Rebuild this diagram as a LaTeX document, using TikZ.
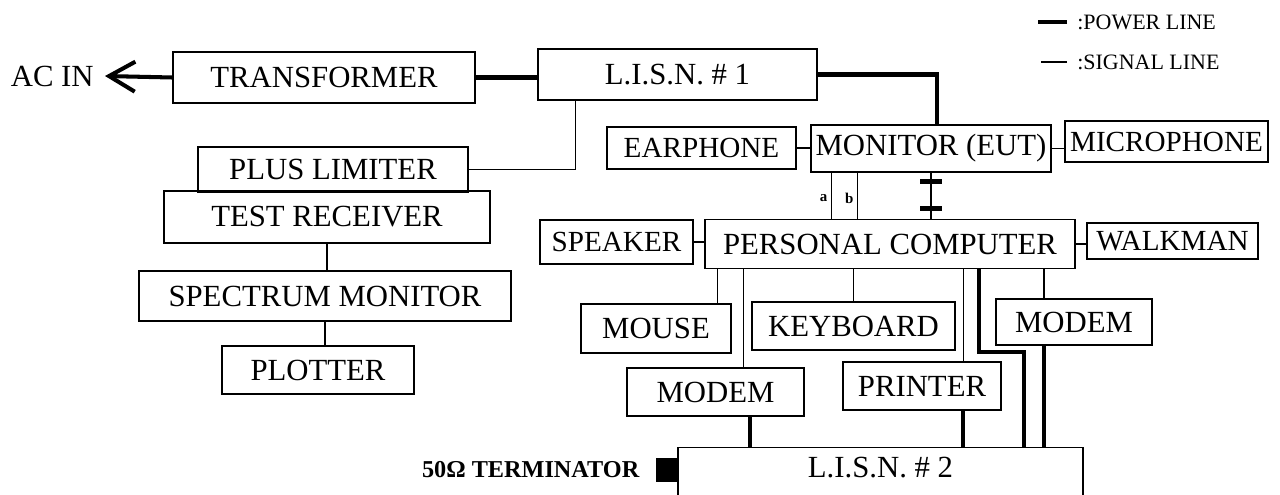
\documentclass[tikz,border=0pt]{standalone}
\usepackage{fontspec}
\setmainfont{Liberation Serif}
\usetikzlibrary{arrows.meta, positioning}

\begin{document}
\begin{tikzpicture}[
    x=0.02cm, y=-0.02cm,
    box/.style={rectangle, draw, line width=0.7pt, inner sep=0pt, text centered, font=\fontsize{17.5}{20}\selectfont},
    small box/.style={box, font=\fontsize{16.6}{19}\selectfont},
    power/.style={line width=2.3pt},
    signal/.style={line width=0.6pt},
    bar/.style={rectangle, fill, inner sep=0pt, minimum width=0.44cm, minimum height=0.1cm},
    legend/.style={anchor=west, inner sep=0pt, font=\fontsize{12.5}{14}\selectfont}
]
\useasboundingbox (0,0) rectangle (1280,494);

% measuring side
\node (acin) [anchor=east, inner sep=0pt, font=\fontsize{17.5}{20}\selectfont] at (94,76) {AC IN};
\coordinate (tip) at (105,76);
\node (tr) [box, minimum width=6.04cm, minimum height=1.02cm] at (324,77.5) {TRANSFORMER};
\node (lisn1) [box, minimum width=5.58cm, minimum height=1.02cm] at (677.5,74.5) {L.I.S.N. \# 1};
\node (pl) [box, minimum width=5.4cm, minimum height=0.9cm] at (333,169.5) {PLUS LIMITER};
\node (rcv) [box, minimum width=6.52cm, minimum height=1.04cm] at (327,217) {TEST RECEIVER};
\node (spec) [box, minimum width=7.44cm, minimum height=1.0cm] at (325,296) {SPECTRUM MONITOR};
\node (plot) [box, minimum width=3.84cm, minimum height=0.96cm] at (318,370) {PLOTTER};

% EUT side
\node (ear) [small box, minimum width=3.78cm, minimum height=0.84cm] at (701.5,148) {EARPHONE};
\node (mon) [box, minimum width=4.8cm, minimum height=0.94cm] at (931,148.5) {MONITOR (EUT)};
\node (mic) [small box, minimum width=4.06cm, minimum height=0.82cm] at (1166.5,141.5) {MICROPHONE};
\node (spk) [small box, minimum width=3.06cm, minimum height=0.88cm] at (616.5,242) {SPEAKER};
\node (pc) [box, minimum width=7.4cm, minimum height=0.98cm] at (890,244) {PERSONAL COMPUTER};
\node (walk) [small box, minimum width=3.42cm, minimum height=0.72cm] at (1172.5,241) {WALKMAN};
\node (mouse) [box, minimum width=3.0cm, minimum height=0.98cm] at (656,328.5) {MOUSE};
\node (kbd) [box, minimum width=4.06cm, minimum height=0.96cm] at (853.5,326) {KEYBOARD};
\node (mdm1) [box, minimum width=3.54cm, minimum height=0.96cm] at (715.5,392) {MODEM};
\node (prn) [box, minimum width=3.16cm, minimum height=0.96cm] at (922,386) {PRINTER};
\node (mdm2) [box, minimum width=3.12cm, minimum height=0.92cm] at (1074,322) {MODEM};
\node (lisn2) [box, anchor=north, minimum width=8.1cm, text height=0.6cm, text depth=1.2cm] at (880.5,447) {L.I.S.N. \# 2};
\node (term) [rectangle, fill, inner sep=0pt, minimum width=0.44cm, minimum height=0.48cm] at (667,470) {};
\node (termtxt) [left=0.32cm of term, inner sep=0pt, font=\bfseries\fontsize{13.8}{16}\selectfont] {50Ω TERMINATOR};

% legend
\node (lgp) [legend] at (1077,22) {:POWER LINE};
\node (lgs) [legend] at (1077,62) {:SIGNAL LINE};
\draw [power] ([xshift=-0.2cm]lgp.west) -- ++(-29,0);
\draw [signal] ([xshift=-0.2cm]lgs.west) -- ++(-26,0);

% helper points
\coordinate (pa) at ([xshift=0.42cm]mon.south west);
\coordinate (pb) at ([xshift=0.94cm]mon.south west);
\coordinate (pms) at ([xshift=0.26cm]pc.south west);
\coordinate (pm1) at ([xshift=0.78cm]pc.south west);
\coordinate (ppr) at ([xshift=5.18cm]pc.south west);
\coordinate (ppw) at ([xshift=5.5cm]pc.south west);
\coordinate (lpw) at ([xshift=6.94cm]lisn2.north west);
\coordinate (m1p) at ([xshift=0.69cm]mdm1.south);
\coordinate (prp) at ([xshift=0.82cm]prn.south);
\coordinate (m2s) at ([xshift=-0.6cm]mdm2.north);
\coordinate (m2p) at ([xshift=-0.6cm]mdm2.south);

% power lines
\draw [power, -{Straight Barb[length=0.52cm, width=0.6cm]}] (tr.west) -- (tip);
\draw [power] (tr.east) -- (tr.east -| lisn1.west);
\draw [power] (lisn1.east) -| ([xshift=0.12cm]mon.north);
\draw [power] (m1p) -- (m1p |- lisn2.north);
\draw [power] (prp) -- (prp |- lisn2.north);
\draw [power] (ppw) -- ++(0,83) -| (lpw);
\draw [power] (m2p) -- (m2p |- lisn2.north);

% signal lines
\draw [signal] (pl.east) -| ([xshift=0.76cm]lisn1.south west);
\draw [signal] (rcv.south) -- (rcv.south |- spec.north);
\draw [signal] (spec.south) -- (spec.south |- plot.north);
\draw [signal] (ear.east) -- (ear.east -| mon.west);
\draw [signal] (mon.east) -- (mon.east -| mic.west);
\draw [signal] (pa) -- (pa |- pc.north) node[pos=0.55, left, inner sep=2pt, font=\bfseries\fontsize{8.5}{9}\selectfont] {a};
\draw [signal] (pb) -- (pb |- pc.north) node[pos=0.55, left, inner sep=2pt, font=\bfseries\fontsize{8.5}{9}\selectfont] {b};
\draw [signal] (mon.south) -- (mon.south |- pc.north) node[bar, pos=0.19] {} node[bar, pos=0.77] {};
\draw [signal] (spk.east) -- (spk.east -| pc.west);
\draw [signal] (pc.east) -- (pc.east -| walk.west);
\draw [signal] (pms) -- (pms |- mouse.north);
\draw [signal] (pm1) -- (pm1 |- mdm1.north);
\draw [signal] (kbd.north |- pc.south) -- (kbd.north);
\draw [signal] (ppr) -- (ppr |- prn.north);
\draw [signal] (m2s |- pc.south) -- (m2s);

\end{tikzpicture}
\end{document}
